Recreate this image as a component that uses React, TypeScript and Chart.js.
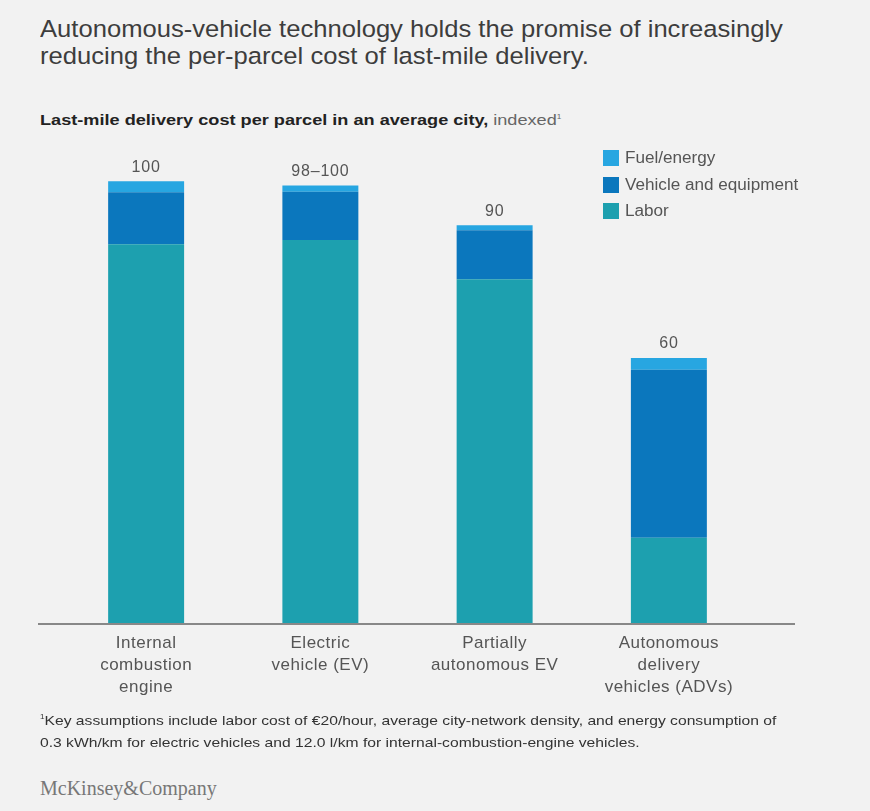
import React, { useEffect, useRef } from "react";
import { Chart, registerables } from "chart.js";

Chart.register(...registerables);

const categories: string[][] = [
  ["Internal", "combustion", "engine"],
  ["Electric", "vehicle (EV)"],
  ["Partially", "autonomous EV"],
  ["Autonomous", "delivery", "vehicles (ADVs)"],
];
const labor = [85.7, 86.7, 77.8, 19.3];
const vehicle = [11.8, 10.9, 11.1, 38.0];
const fuel = [2.5, 1.4, 1.1, 2.7];
const totalLabels = ["100", "98–100", "90", "60"];

const seriesNames = ["Fuel/energy", "Vehicle and equipment", "Labor"];
const colors = { fuel: "#27A6E1", vehicle: "#0B77BD", labor: "#1DA0AF" };

const FONT = "'Liberation Sans', Arial, sans-serif";

export default function App() {
  const ref = useRef<HTMLCanvasElement>(null);

  useEffect(() => {
    document.body.style.margin = "0";
    const canvas = ref.current!;
    const labelPlugin = {
      id: "totals",
      beforeDraw(chart: any) {
        (chart.ctx as any).letterSpacing = "0.5px";
      },
      afterDatasetsDraw(chart: any) {
        const ctx = chart.ctx;
        const meta = chart.getDatasetMeta(2);
        ctx.save();
        (ctx as any).letterSpacing = "0.8px";
        ctx.font = `16px ${FONT}`;
        ctx.fillStyle = "#555";
        ctx.textAlign = "center";
        ctx.textBaseline = "bottom";
        meta.data.forEach((bar: any, i: number) => {
          ctx.fillText(totalLabels[i], bar.x, bar.y - 6);
        });
        const y = chart.scales.y.getPixelForValue(0);
        ctx.strokeStyle = "#888";
        ctx.lineWidth = 2;
        ctx.beginPath();
        ctx.moveTo(chart.chartArea.left - 21, y + 1);
        ctx.lineTo(chart.chartArea.right + 39, y + 1);
        ctx.stroke();
        ctx.restore();
      },
      afterDraw(chart: any) {
        (chart.ctx as any).letterSpacing = "0px";
      },
    };
    const chart = new Chart(canvas, {
      type: "bar",
      data: {
        labels: categories as any,
        datasets: [
          { label: seriesNames[2], data: labor, backgroundColor: colors.labor },
          { label: seriesNames[1], data: vehicle, backgroundColor: colors.vehicle },
          { label: seriesNames[0], data: fuel, backgroundColor: colors.fuel },
        ],
      },
      options: {
        responsive: false,
        animation: false,
        devicePixelRatio: 1,
        layout: { padding: { left: 59, right: 114, top: 7, bottom: 18 } },
        plugins: { legend: { display: false }, tooltip: { enabled: false } },
        datasets: { bar: { barPercentage: 0.436, categoryPercentage: 1 } },
        scales: {
          x: {
            stacked: true,
            grid: { display: false, drawTicks: false },
            border: { display: false },
            ticks: {
              font: { family: FONT, size: 17, lineHeight: 1.27 },
              color: "#555",
              padding: 10,
              maxRotation: 0,
              autoSkip: false,
            },
            afterFit: (s: any) => {
              s.height = 90;
            },
          },
          y: {
            stacked: true,
            display: false,
            min: 0,
            max: 110,
          },
        },
      },
      plugins: [labelPlugin],
    });
    return () => chart.destroy();
  }, []);

  const legendItems = [
    { name: seriesNames[0], color: colors.fuel, top: 150 },
    { name: seriesNames[1], color: colors.vehicle, top: 177 },
    { name: seriesNames[2], color: colors.labor, top: 203 },
  ];

  const stretch = (k: number): React.CSSProperties => ({
    transform: `scaleX(${k})`,
    transformOrigin: "left center",
  });

  return (
    <div
      style={{
        position: "relative",
        width: 870,
        height: 811,
        background: "#F2F2F2",
        fontFamily: FONT,
        overflow: "hidden",
      }}
    >
      <div
        style={{
          position: "absolute",
          left: 40,
          top: 15,
          fontSize: 24.5,
          lineHeight: "27px",
          color: "#3d3d3d",
          whiteSpace: "nowrap",
          ...stretch(1.045),
        }}
      >
        Autonomous-vehicle technology holds the promise of increasingly
        <br />
        reducing the per-parcel cost of last-mile delivery.
      </div>
      <div
        style={{
          position: "absolute",
          left: 40,
          top: 111,
          fontSize: 15.5,
          color: "#222",
          whiteSpace: "nowrap",
          ...stretch(1.17),
        }}
      >
        <b>Last-mile delivery cost per parcel in an average city,</b>
        <span style={{ color: "#666" }}> indexed</span>
        <sup style={{ fontSize: 7, color: "#666" }}>1</sup>
      </div>
      <canvas
        ref={ref}
        width={870}
        height={601}
        style={{ position: "absolute", left: 0, top: 130, width: 870, height: 601 }}
      />
      {legendItems.map((it) => (
        <div
          key={it.name}
          style={{
            position: "absolute",
            left: 603,
            top: it.top,
            height: 16,
            display: "flex",
            alignItems: "center",
            whiteSpace: "nowrap",
          }}
        >
          <span style={{ width: 16, height: 16, background: it.color, display: "inline-block" }} />
          <span
            style={{
              marginLeft: 6,
              fontSize: 16,
              color: "#555",
              display: "inline-block",
              ...stretch(1.07),
            }}
          >
            {it.name}
          </span>
        </div>
      ))}
      <div
        style={{
          position: "absolute",
          left: 40,
          top: 706,
          fontSize: 13.5,
          lineHeight: "22px",
          color: "#333",
          whiteSpace: "nowrap",
          ...stretch(1.16),
        }}
      >
        <sup style={{ fontSize: 7 }}>1</sup>Key assumptions include labor cost of €20/hour, average city-network density, and energy consumption of
        <br />
        0.3 kWh/km for electric vehicles and 12.0 l/km for internal-combustion-engine vehicles.
      </div>
      <div
        style={{
          position: "absolute",
          left: 40,
          top: 777,
          fontSize: 20,
          fontFamily: "'Liberation Serif', 'DejaVu Serif', serif",
          color: "#777",
        }}
      >
        McKinsey&amp;Company
      </div>
    </div>
  );
}
